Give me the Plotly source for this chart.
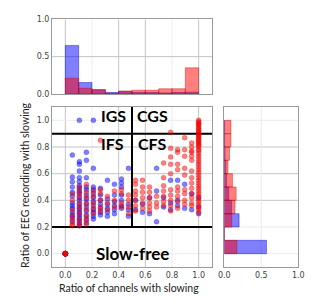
import plotly.graph_objects as go

# ---------------- data ----------------
N_CHANNELS = 19

# blue group: (number of channels with slowing, ratio of recording with slowing)
blue_channels = (
    [0] * 8
    + [1] * 13 + [2] * 21 + [3] * 13 + [4] * 12 + [5] * 7 + [6] * 6 + [7] * 6
    + [8] * 7 + [9] * 4 + [10] * 2 + [11] * 2 + [12] * 2 + [13] * 3 + [14] * 2
    + [15] * 3 + [16] * 3 + [17] * 2 + [18] * 2 + [19] * 3
)
blue_ratio = (
    [0.0] * 8
    + [0.74, 0.575, 0.54, 0.50, 0.46, 0.43, 0.38, 0.36, 0.34, 0.31, 0.29, 0.27, 0.24]
    + [1.0, 0.69, 0.67, 0.62, 0.57, 0.54, 0.51, 0.49, 0.47, 0.45, 0.42, 0.40, 0.37,
       0.35, 0.33, 0.31, 0.29, 0.27, 0.25, 0.23, 0.21]
    + [0.76, 0.70, 0.57, 0.50, 0.48, 0.44, 0.41, 0.38, 0.35, 0.32, 0.29, 0.26, 0.23]
    + [1.0, 0.64, 0.50, 0.48, 0.45, 0.42, 0.39, 0.36, 0.33, 0.31, 0.28, 0.26]
    + [0.49, 0.44, 0.40, 0.37, 0.34, 0.31, 0.29]
    + [0.55, 0.41, 0.37, 0.34, 0.31, 0.28]
    + [0.52, 0.44, 0.39, 0.36, 0.33, 0.30]
    + [0.56, 0.53, 0.50, 0.44, 0.40, 0.36, 0.34]
    + [0.64, 0.37, 0.33, 0.28]
    + [0.40, 0.33]
    + [0.37, 0.31]
    + [0.42, 0.30]
    + [0.64, 0.47, 0.24]
    + [0.42, 0.35]
    + [0.55, 0.38, 0.33]
    + [0.55, 0.40, 0.36]
    + [0.52, 0.34]
    + [0.45, 0.33]
    + [0.42, 0.35, 0.30]
)

red_channels = (
    [0] * 6
    + [1] * 7 + [2] * 9 + [3] * 8 + [4] * 5 + [5] * 6 + [6] * 3 + [7] * 3 + [8] * 4
    + [9] * 4 + [10] * 7 + [11] * 6 + [12] * 6 + [13] * 3 + [14] * 7 + [15] * 10
    + [16] * 9 + [17] * 9 + [18] * 14 + [19] * 46
)
red_ratio = (
    [0.0] * 6
    + [0.45, 0.40, 0.33, 0.28, 0.25, 0.22, 0.21]
    + [0.50, 0.46, 0.43, 0.38, 0.34, 0.30, 0.26, 0.23, 0.21]
    + [0.52, 0.46, 0.42, 0.37, 0.33, 0.28, 0.25, 0.22]
    + [0.47, 0.43, 0.38, 0.34, 0.30]
    + [0.85, 0.48, 0.45, 0.40, 0.35, 0.32]
    + [0.43, 0.38, 0.33]
    + [0.47, 0.40, 0.35]
    + [0.48, 0.45, 0.38, 0.35]
    + [0.44, 0.40, 0.35, 0.30]
    + [0.55, 0.52, 0.47, 0.44, 0.40, 0.36, 0.32]
    + [0.55, 0.50, 0.46, 0.42, 0.38, 0.34]
    + [0.50, 0.46, 0.42, 0.38, 0.35, 0.32]
    + [0.43, 0.38, 0.35]
    + [0.68, 0.57, 0.51, 0.47, 0.43, 0.39, 0.36]
    + [0.91, 0.79, 0.725, 0.67, 0.60, 0.48, 0.44, 0.40, 0.36, 0.32]
    + [0.78, 0.76, 0.67, 0.63, 0.50, 0.47, 0.43, 0.39, 0.34]
    + [0.87, 0.78, 0.73, 0.64, 0.59, 0.48, 0.45, 0.40, 0.37]
    + [0.83, 0.80, 0.77, 0.76, 0.73, 0.70, 0.62, 0.57, 0.53, 0.49, 0.45, 0.42, 0.38, 0.36]
    + [1.0, 0.99, 0.98, 0.97, 0.965, 0.95, 0.94, 0.93, 0.92, 0.91, 0.90, 0.89, 0.88,
       0.87, 0.86, 0.85, 0.84, 0.83, 0.82, 0.81, 0.80, 0.78, 0.77, 0.75, 0.73, 0.71,
       0.69, 0.67, 0.65, 0.63, 0.61, 0.59, 0.57, 0.55, 0.53, 0.51, 0.49, 0.47, 0.45,
       0.43, 0.41, 0.39, 0.37, 0.35, 0.33, 0.31]
)

# histogram bins (left edges, width 0.1) and fractions
bin_left = [0.0, 0.1, 0.2, 0.3, 0.4, 0.5, 0.6, 0.7, 0.8, 0.9]
top_blue = [0.65, 0.153, 0.058, 0.02, 0.035, 0.02, 0.02, 0.015, 0.02, 0.025]
top_red = [0.21, 0.076, 0.058, 0.01, 0.04, 0.05, 0.05, 0.07, 0.07, 0.35]
right_blue = [0.57, 0.0, 0.20, 0.10, 0.06, 0.03, 0.02, 0.01, 0.005, 0.005]
right_red = [0.17, 0.0, 0.10, 0.145, 0.16, 0.11, 0.05, 0.07, 0.09, 0.09]

tick_main = [0.0, 0.2, 0.4, 0.6, 0.8, 1.0]
tick_hist = [0.0, 0.5, 1.0]

# ---------------- figure ----------------
W, H = 327, 307
BLUE = "rgba(0,0,255,0.5)"
RED = "rgba(255,0,0,0.5)"
BLUE_EDGE = "rgba(0,0,200,0.5)"
RED_EDGE = "rgba(200,0,0,0.5)"

bx = [c / N_CHANNELS for c in blue_channels]
rx = [c / N_CHANNELS for c in red_channels]
centers = [b + 0.05 for b in bin_left]

fig = go.Figure()
fig.add_trace(go.Scatter(x=bx, y=blue_ratio, mode="markers", xaxis="x", yaxis="y",
                         marker=dict(size=5, color=BLUE, line=dict(width=0.4, color=BLUE_EDGE)),
                         showlegend=False))
fig.add_trace(go.Scatter(x=rx, y=red_ratio, mode="markers", xaxis="x", yaxis="y",
                         marker=dict(size=5, color=RED, line=dict(width=0.4, color=RED_EDGE)),
                         showlegend=False))

fig.add_trace(go.Bar(x=centers, y=top_blue, width=0.1, xaxis="x2", yaxis="y2",
                     marker=dict(color=BLUE, line=dict(width=0.8, color=BLUE_EDGE)), showlegend=False))
fig.add_trace(go.Bar(x=centers, y=top_red, width=0.1, xaxis="x2", yaxis="y2",
                     marker=dict(color=RED, line=dict(width=0.8, color=RED_EDGE)), showlegend=False))
fig.add_trace(go.Bar(y=centers, x=right_blue, width=0.1, orientation="h", xaxis="x3", yaxis="y3",
                     marker=dict(color=BLUE, line=dict(width=0.8, color=BLUE_EDGE)), showlegend=False))
fig.add_trace(go.Bar(y=centers, x=right_red, width=0.1, orientation="h", xaxis="x3", yaxis="y3",
                     marker=dict(color=RED, line=dict(width=0.8, color=RED_EDGE)), showlegend=False))

tickfont = dict(family="DejaVu Sans", size=8, color="#444")
frame = dict(showline=True, mirror=True, linecolor="#9a9a9a", linewidth=1,
             showgrid=False, zeroline=False, ticks="", tickfont=tickfont, automargin=False)

def px_x(a, b):
    return [a / W, b / W]

def px_y(top, bottom):
    return [1 - bottom / H, 1 - top / H]

main_x = px_x(52, 212)
main_y = px_y(107, 267)
fig.update_layout(
    width=W, height=H, autosize=False, hovermode=False,
    margin=dict(l=0, r=0, t=0, b=0, pad=0, autoexpand=False),
    paper_bgcolor="white", plot_bgcolor="white", barmode="overlay",
    xaxis=dict(domain=main_x, range=[-0.1, 1.1], tickvals=tick_main,
               ticktext=[f"{v:.1f}" for v in tick_main], anchor="y", **frame),
    yaxis=dict(domain=main_y, range=[-0.1, 1.1], tickvals=tick_main,
               ticktext=[f"{v:.1f}" for v in tick_main], anchor="x", **frame),
    xaxis2=dict(domain=main_x, range=[-0.1, 1.1], tickvals=tick_main,
                showticklabels=False, anchor="y2", **frame),
    yaxis2=dict(domain=px_y(19.3, 94), range=[0, 1.0], tickvals=tick_hist,
                ticktext=[f"{v:.1f}" for v in tick_hist], anchor="x2", **frame),
    xaxis3=dict(domain=px_x(224.3, 298.3), range=[0, 1.0], tickvals=tick_hist,
                ticktext=[f"{v:.1f}" for v in tick_hist], anchor="y3", **frame),
    yaxis3=dict(domain=main_y, range=[-0.1, 1.1], tickvals=tick_main,
                showticklabels=False, anchor="x3", **frame),
)

STRONG = "#c4c4c4"
FAINT = "#ececec"
shapes = []
def vline(xr, yr, x, y0, y1, color, width=1):
    shapes.append(dict(type="line", xref=xr, yref=yr, x0=x, x1=x, y0=y0, y1=y1,
                       line=dict(color=color, width=width), layer="below"))
def hline(xr, yr, y, x0, x1, color, width=1):
    shapes.append(dict(type="line", xref=xr, yref=yr, x0=x0, x1=x1, y0=y, y1=y,
                       line=dict(color=color, width=width), layer="below"))

for v in tick_main:
    c = STRONG if v in (0.0, 0.4, 0.6, 1.0) else FAINT
    vline("x", "y", v, -0.1, 1.1, c)
    vline("x2", "y2", v, 0, 1.0, c)
    ch = STRONG if v in (0.4, 0.6, 0.8) else FAINT
    hline("x", "y", v, -0.1, 1.1, ch)
    hline("x3", "y3", v, 0, 1.0, ch)
hline("x2", "y2", 0.5, -0.1, 1.1, STRONG)
vline("x3", "y3", 0.5, -0.1, 1.1, FAINT)

# quadrant boundaries
hline("x", "y", 0.9, -0.1, 1.1, "black", 2)
hline("x", "y", 0.2, -0.1, 1.1, "black", 2)
vline("x", "y", 0.5, 0.2, 1.1, "black", 2)
fig.update_layout(shapes=shapes)

lab = dict(family="Lato", size=16, color="black", weight="bold")
ann = [
    dict(text="IGS", x=0.47, y=1.035, xanchor="right"),
    dict(text="CGS", x=0.52, y=1.035, xanchor="left"),
    dict(text="IFS", x=0.455, y=0.83, xanchor="right"),
    dict(text="CFS", x=0.53, y=0.83, xanchor="left"),
]
annotations = [dict(xref="x", yref="y", showarrow=False, yanchor="middle",
                    font=lab, **a) for a in ann]
annotations.append(dict(text="Slow-free", x=0.5, y=0.0, xref="x", yref="y",
                        showarrow=False, xanchor="center", yanchor="middle",
                        font=dict(family="Lato", size=17, color="black", weight="bold")))
axfont = dict(family="Lato", size=10.5, color="#222")
annotations.append(dict(text="Ratio of channels with slowing", x=129 / W, y=1 - 288 / H,
                        xref="paper", yref="paper", showarrow=False,
                        xanchor="center", yanchor="middle", font=axfont))
annotations.append(dict(text="Ratio of EEG recording with slowing", x=25 / W, y=1 - 185 / H,
                        xref="paper", yref="paper", showarrow=False, textangle=-90,
                        xanchor="center", yanchor="middle", font=axfont))
fig.update_layout(annotations=annotations)

fig.write_html("out.html", config={"displayModeBar": False, "responsive": False},
               post_script="document.body.style.margin='0';")
